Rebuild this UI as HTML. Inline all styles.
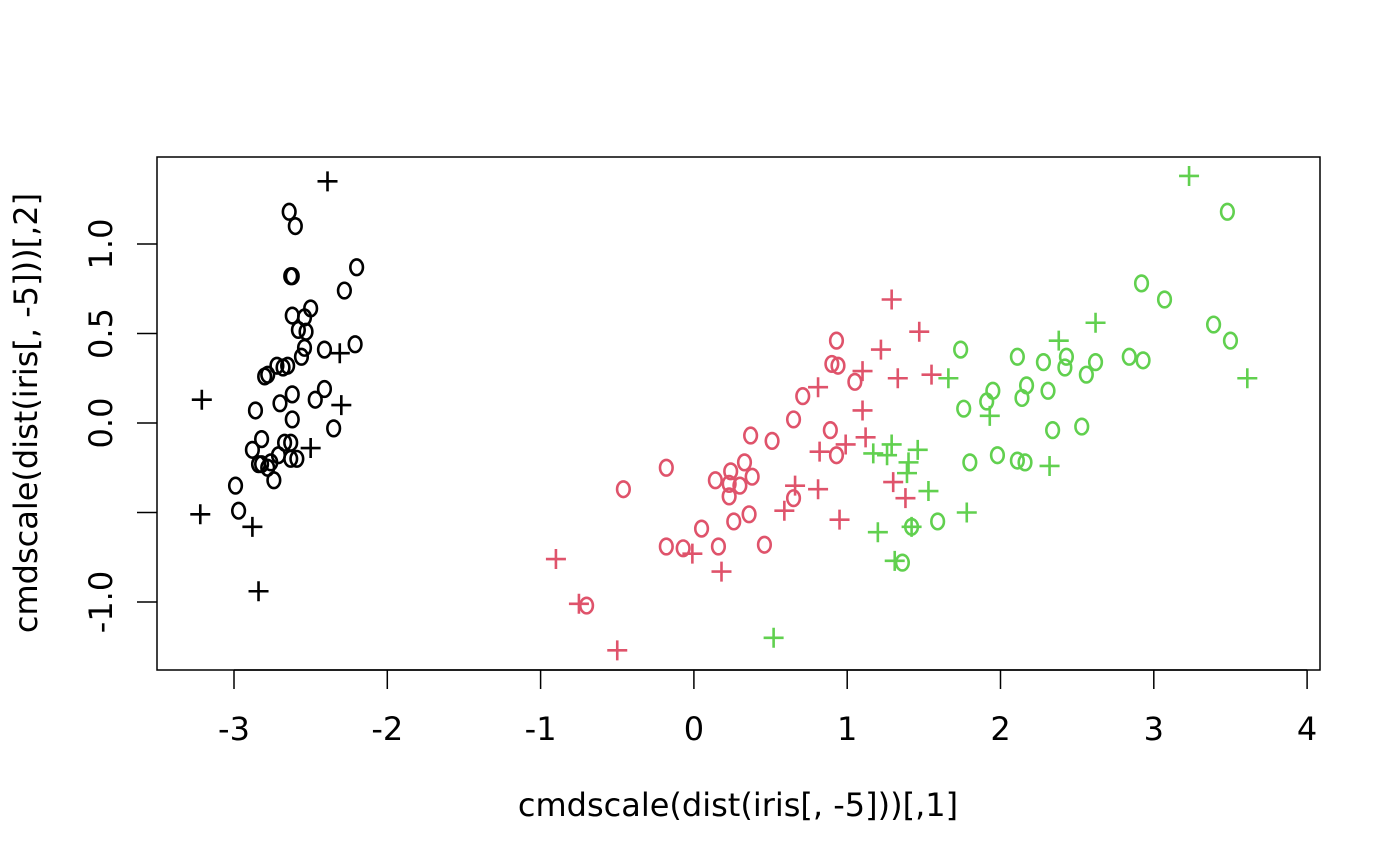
<!DOCTYPE html>
<html><head><meta charset="utf-8"><style>
html,body{margin:0;padding:0;background:#fff}
svg{display:block}
text{font-family:"DejaVu Sans","Liberation Sans",sans-serif;fill:#000}
</style></head><body>
<svg id="chart" width="1400" height="866" viewBox="0 0 1400 866" xmlns="http://www.w3.org/2000/svg">
<rect x="157" y="157" width="1163" height="513" fill="none" stroke="#000" stroke-width="1.5"/>
<g id="axes"></g>
<g id="marks"></g>
<text x="738" y="816" font-size="32" text-anchor="middle">cmdscale(dist(iris[, -5]))[,1]</text>
<text x="0" y="0" font-size="32" text-anchor="middle" transform="translate(37,413) rotate(-90)">cmdscale(dist(iris[, -5]))[,2]</text>
</svg>
<script>
const xTicks=[-3,-2,-1,0,1,2,3,4];
const yTicks=[-1.0,-0.5,0.0,0.5,1.0];
const yTickLabels=["-1.0","","0.0","0.5","1.0"];
const setosaO_x=[-2.64,-2.60,-2.63,-2.62,-2.20,-2.28,-2.50,-2.62,-2.54,-2.58,-2.53,-2.21,-2.54,-2.41,-2.56,-2.72,-2.65,-2.68,-2.78,-2.80,-2.62,-2.70,-2.47,-2.41,-2.86,-2.62,-2.35,-2.82,-2.67,-2.63,-2.88,-2.71,-2.63,-2.59,-2.76,-2.82,-2.78,-2.84,-2.74,-2.99,-2.97];
const setosaO_y=[1.18,1.10,0.82,0.82,0.87,0.74,0.64,0.60,0.59,0.52,0.51,0.44,0.42,0.41,0.37,0.32,0.32,0.31,0.27,0.26,0.16,0.11,0.13,0.19,0.07,0.02,-0.03,-0.09,-0.11,-0.11,-0.15,-0.18,-0.20,-0.20,-0.22,-0.23,-0.25,-0.23,-0.32,-0.35,-0.49];
const setosaP_x=[-2.39,-2.31,-3.21,-2.30,-2.50,-3.22,-2.88,-2.84];
const setosaP_y=[1.35,0.39,0.13,0.10,-0.14,-0.51,-0.58,-0.94];
const versO_x=[0.93,0.94,0.90,1.05,0.71,0.37,0.51,0.65,0.89,0.93,-0.18,0.24,0.33,0.14,0.38,0.30,0.23,-0.46,0.23,0.36,0.26,0.05,0.65,0.46,-0.18,-0.07,0.16,-0.70];
const versO_y=[0.46,0.32,0.33,0.23,0.15,-0.07,-0.10,0.02,-0.04,-0.18,-0.25,-0.27,-0.22,-0.32,-0.30,-0.35,-0.34,-0.37,-0.41,-0.51,-0.55,-0.59,-0.42,-0.68,-0.69,-0.70,-0.69,-1.02];
const versP_x=[1.29,1.47,1.22,1.10,1.55,1.33,0.81,1.10,0.99,1.12,0.82,1.30,0.66,0.81,1.38,0.59,0.95,-0.01,-0.90,0.18,-0.75,-0.50];
const versP_y=[0.69,0.51,0.41,0.29,0.27,0.25,0.20,0.07,-0.12,-0.08,-0.16,-0.33,-0.35,-0.37,-0.42,-0.49,-0.54,-0.73,-0.76,-0.83,-1.01,-1.27];
const virgO_x=[3.48,2.92,3.07,3.39,3.50,1.74,2.11,2.43,2.28,2.62,2.84,2.93,2.56,2.42,1.95,2.17,2.31,2.14,1.91,1.76,2.34,2.53,1.98,2.11,1.80,2.16,1.59,1.42,1.36];
const virgO_y=[1.18,0.78,0.69,0.55,0.46,0.41,0.37,0.37,0.34,0.34,0.37,0.35,0.27,0.31,0.18,0.21,0.18,0.14,0.12,0.08,-0.04,-0.02,-0.18,-0.21,-0.22,-0.22,-0.55,-0.58,-0.78];
const virgP_x=[3.23,2.62,2.38,3.61,1.66,1.93,1.29,1.17,1.26,1.46,1.40,1.39,2.32,1.53,1.78,1.42,1.20,1.31,0.52];
const virgP_y=[1.38,0.56,0.46,0.25,0.25,0.04,-0.12,-0.17,-0.18,-0.15,-0.22,-0.28,-0.24,-0.38,-0.50,-0.58,-0.61,-0.77,-1.20];

const NS="http://www.w3.org/2000/svg";
function sx(v){return 234+(v+3)*153.3;}
function sy(v){return 423-v*179;}
function mk(tag,attrs,parent){const e=document.createElementNS(NS,tag);for(const k in attrs)e.setAttribute(k,attrs[k]);parent.appendChild(e);return e;}
const axes=document.getElementById('axes');
xTicks.forEach(function(t){
  const l=mk('line',{x1:sx(t),x2:sx(t),y1:670,y2:689,stroke:'#000','stroke-width':1.5},axes);
  
  
  const tx=mk('text',{x:sx(t),y:740,'font-size':32,'text-anchor':'middle'},axes);
  tx.textContent=String(t);
  
  
});
mk('line',{x1:sx(-3),x2:sx(4),y1:670,y2:670,stroke:'#000','stroke-width':1.5},axes);
yTicks.forEach(function(t,i){
  const l=mk('line',{x1:137,x2:157,y1:sy(t),y2:sy(t),stroke:'#000','stroke-width':1.5},axes);
  
  
  if(yTickLabels[i]){
    const tx=mk('text',{x:0,y:0,'font-size':32,'text-anchor':'middle',transform:'translate(112,'+sy(t)+') rotate(-90)'},axes);
    tx.textContent=yTickLabels[i];
    
    
  }
});
const marks=document.getElementById('marks');
function circles(xs,ys,col,name){xs.forEach(function(x,i){
  const e=mk('ellipse',{cx:sx(x),cy:sy(ys[i]),rx:6.3,ry:7.8,fill:'none',stroke:col,'stroke-width':2.6},marks);
  
  
});}
function pluses(xs,ys,col,name){xs.forEach(function(x,i){
  const cx=sx(x),cy=sy(ys[i]);
  const e=mk('path',{d:'M'+(cx-10)+' '+cy+'H'+(cx+10)+'M'+cx+' '+(cy-10)+'V'+(cy+10),stroke:col,'stroke-width':2.6,fill:'none'},marks);
  
  
});}
circles(setosaO_x,setosaO_y,'#000','setosa-circle-point');
pluses(setosaP_x,setosaP_y,'#000','setosa-plus-point');
circles(versO_x,versO_y,'#DF536B','versicolor-circle-point');
pluses(versP_x,versP_y,'#DF536B','versicolor-plus-point');
circles(virgO_x,virgO_y,'#61D04F','virginica-circle-point');
pluses(virgP_x,virgP_y,'#61D04F','virginica-plus-point');
</script>
</body></html>
